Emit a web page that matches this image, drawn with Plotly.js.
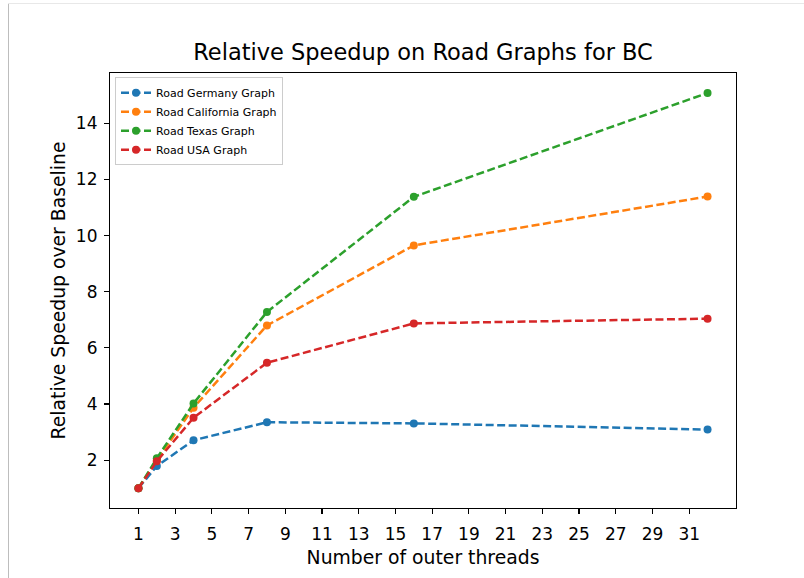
<!DOCTYPE html>
<html>
<head>
<meta charset="utf-8">
<script src="https://cdn.plot.ly/plotly-3.0.1.min.js"></script>
<style>
  html, body { margin: 0; padding: 0; background: #fff; }
  #wrap { position: relative; width: 804px; height: 578px; overflow: hidden; }
  #chart { position: absolute; left: 0; top: 0; width: 804px; height: 578px; }
  #bl { position: absolute; left: 8px; top: 3px; width: 1px; height: 575px; background: #bdbdbd; }
  #bt { position: absolute; left: 8px; top: 3px; width: 796px; height: 1px; background: #e8e8e8; }
</style>
</head>
<body>
<div id="wrap">
  <div id="chart"></div>
  <div id="bl"></div>
  <div id="bt"></div>
</div>
<script>
const threads = [1, 2, 4, 8, 16, 32];
const germany = [1.0, 1.79, 2.71, 3.35, 3.31, 3.09];
const california = [1.0, 2.0, 3.87, 6.80, 9.65, 11.39];
const texas = [1.0, 2.07, 4.02, 7.28, 11.38, 15.08];
const usa = [1.0, 1.96, 3.51, 5.47, 6.87, 7.04];
const seriesNames = ["Road Germany Graph", "Road California Graph", "Road Texas Graph", "Road USA Graph"];
const seriesColors = ["#1f77b4", "#ff7f0e", "#2ca02c", "#d62728"];
const xTicks = [1, 3, 5, 7, 9, 11, 13, 15, 17, 19, 21, 23, 25, 27, 29, 31];
const yTicks = [2, 4, 6, 8, 10, 12, 14];

const allSeries = [germany, california, texas, usa];
const traces = allSeries.map((ys, i) => ({
  x: threads,
  y: ys,
  name: seriesNames[i],
  type: "scatter",
  mode: "lines+markers",
  line: { color: seriesColors[i], width: 2.5, dash: "8px,3.5px" },
  marker: { color: seriesColors[i], size: 8 }
}));

const font = "DejaVu Sans, sans-serif";
const layout = {
  width: 804,
  height: 578,
  paper_bgcolor: "rgba(0,0,0,0)",
  plot_bgcolor: "#ffffff",
  margin: { l: 110, r: 68, t: 73, b: 70, pad: 0 },
  font: { family: font, color: "#000" },
  title: {
    text: "Relative Speedup on Road Graphs for BC",
    font: { family: font, size: 22.5, color: "#000" },
    x: 0.5, xref: "paper", xanchor: "center",
    y: 1 - 52 / 578, yref: "container", yanchor: "middle"
  },
  showlegend: true,
  legend: {
    x: 0.008, y: 0.99, xanchor: "left", yanchor: "top",
    bgcolor: "rgba(255,255,255,0.8)",
    bordercolor: "#cccccc", borderwidth: 1,
    font: { family: font, size: 11, color: "#000" },
    itemwidth: 30,
    tracegroupgap: 0
  },
  xaxis: {
    range: [-0.55, 33.55],
    tickmode: "array",
    tickvals: xTicks,
    ticktext: xTicks.map(String),
    ticks: "outside", ticklen: 5, tickwidth: 1.1, tickcolor: "#000",
    ticklabelstandoff: 5,
    showgrid: false, zeroline: false,
    showline: true, linecolor: "#000", linewidth: 1.1, mirror: true,
    tickfont: { family: font, size: 17, color: "#000" },
    title: { text: "Number of outer threads", font: { family: font, size: 18.8, color: "#000" }, standoff: 8 }
  },
  yaxis: {
    range: [0.296, 15.79],
    tickmode: "array",
    tickvals: yTicks,
    ticktext: yTicks.map(String),
    ticks: "outside", ticklen: 5, tickwidth: 1.1, tickcolor: "#000",
    ticklabelstandoff: 3,
    showgrid: false, zeroline: false,
    showline: true, linecolor: "#000", linewidth: 1.1, mirror: true,
    tickfont: { family: font, size: 17, color: "#000" },
    title: { text: "Relative Speedup over Baseline", font: { family: font, size: 18.8, color: "#000" }, standoff: 5 }
  }
};

Plotly.newPlot("chart", traces, layout, { displayModeBar: false, staticPlot: true });
</script>
</body>
</html>
